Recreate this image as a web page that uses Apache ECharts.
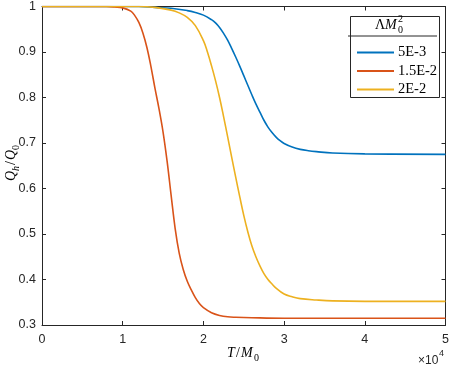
<!DOCTYPE html>
<html>
<head>
<meta charset="utf-8">
<script src="https://cdn.jsdelivr.net/npm/echarts@6/dist/echarts.min.js"></script>
<style>
html, body { margin: 0; padding: 0; background: #fff; }
#main { width: 452px; height: 366px; }
</style>
</head>
<body>
<div id="main"></div>
<script>
// Q_h/Q_0 against T/M_0 (x in units of 1e4)
var seriesNames = ['5E-3', '1.5E-2', '2E-2'];
var seriesColors = ['#0072BD', '#D95319', '#EDB120'];

var blueData = [
    [0, 1], [1.2, 1], [1.4, 0.998], [1.6, 0.996], [1.8, 0.991], [1.9, 0.987],
    [2.0, 0.981], [2.1, 0.971], [2.15, 0.964], [2.2, 0.954], [2.25, 0.941],
    [2.3, 0.926], [2.35, 0.908], [2.4, 0.889], [2.45, 0.869], [2.5, 0.848],
    [2.55, 0.827], [2.6, 0.806], [2.65, 0.786], [2.7, 0.768], [2.75, 0.750],
    [2.8, 0.735], [2.85, 0.723], [2.9, 0.713], [2.95, 0.705], [3.0, 0.699],
    [3.1, 0.691], [3.2, 0.686], [3.3, 0.683], [3.4, 0.681], [3.6, 0.678],
    [4.0, 0.676], [5, 0.675]
];
var redData = [
    [0, 1], [0.8, 1], [0.9, 0.999], [1.0, 0.997], [1.1, 0.99], [1.15, 0.98],
    [1.2, 0.965], [1.25, 0.942], [1.3, 0.91], [1.35, 0.868], [1.4, 0.82],
    [1.45, 0.775], [1.5, 0.724], [1.55, 0.66], [1.6, 0.585], [1.65, 0.512],
    [1.7, 0.458], [1.75, 0.422], [1.8, 0.396], [1.85, 0.377], [1.9, 0.36],
    [1.95, 0.347], [2.0, 0.338], [2.1, 0.327], [2.2, 0.321], [2.3, 0.318],
    [2.4, 0.317], [2.6, 0.316], [3.0, 0.315], [5, 0.315]
];
var yellowData = [
    [0, 1], [1.2, 1], [1.4, 0.998], [1.6, 0.992], [1.7, 0.986], [1.8, 0.976],
    [1.9, 0.958], [2.0, 0.925], [2.05, 0.9], [2.1, 0.87], [2.15, 0.837],
    [2.2, 0.80], [2.25, 0.758], [2.3, 0.714], [2.35, 0.669], [2.4, 0.625],
    [2.45, 0.582], [2.5, 0.541], [2.55, 0.505], [2.6, 0.474], [2.65, 0.45],
    [2.7, 0.43], [2.75, 0.413], [2.8, 0.40], [2.85, 0.39], [2.9, 0.381],
    [3.0, 0.368], [3.1, 0.362], [3.2, 0.358], [3.4, 0.355], [3.6, 0.353],
    [4.0, 0.352], [5, 0.352]
];
var allData = [blueData, redData, yellowData];

var xMin = 0, xMax = 5, xStep = 1;
var yMin = 0.3, yMax = 1, yStep = 0.1;

var axisColor = '#262626';
var sansFont = '"Liberation Sans", Arial, sans-serif';
var serifFont = '"Liberation Serif", "DejaVu Serif", serif';

var myChart = echarts.init(document.getElementById('main'));

function makeAxis(type, pos, showLabel) {
    return {
        type: 'value',
        position: pos,
        min: type === 'x' ? xMin : yMin,
        max: type === 'x' ? xMax : yMax,
        interval: type === 'x' ? xStep : yStep,
        axisLine: { show: true, onZero: false, lineStyle: { color: axisColor, width: 1 } },
        axisTick: { show: true, inside: true, length: 4, lineStyle: { color: axisColor } },
        axisLabel: {
            show: showLabel,
            color: axisColor,
            fontFamily: sansFont,
            fontSize: 12.5,
            margin: type === 'x' ? 8 : 6,
            showMinLabel: true,
            showMaxLabel: true,
            formatter: function (v) { return String(Math.round(v * 10) / 10); }
        },
        splitLine: { show: false }
    };
}

var series = seriesNames.map(function (name, i) {
    return {
        name: name,
        type: 'line',
        data: allData[i],
        smooth: 0.4,
        symbol: 'none',
        showSymbol: false,
        lineStyle: { color: seriesColors[i], width: 1.6 },
        itemStyle: { color: seriesColors[i] }
    };
});

var option = {
    backgroundColor: '#fff',
    animation: false,
    grid: { left: 42, right: 5, top: 5, bottom: 41, containLabel: false },
    xAxis: [makeAxis('x', 'bottom', true), makeAxis('x', 'top', false)],
    yAxis: [makeAxis('y', 'left', true), makeAxis('y', 'right', false)],
    legend: {
        orient: 'vertical',
        left: 352,
        top: 40,
        itemWidth: 37,
        itemHeight: 14,
        itemGap: 3.5,
        icon: 'path://M0,6 L37,6 L37,8 L0,8 Z',
        data: seriesNames,
        textStyle: { fontFamily: serifFont, fontSize: 14.5, color: '#000', padding: [0, 0, 0, -1] }
    },
    series: series,
    graphic: [
        // legend box with its title row
        { type: 'rect', left: 348, top: 14, shape: { width: 89, height: 81 },
          style: { fill: 'none', stroke: axisColor, lineWidth: 1 }, z: 0 },
        { type: 'line', shape: { x1: 348, y1: 36, x2: 437, y2: 36 },
          style: { stroke: axisColor, lineWidth: 1 } },
        { type: 'text', x: 375, y: 18, style: { text: 'Λ', font: '14px ' + serifFont, fill: '#000' } },
        { type: 'text', x: 385, y: 18, style: { text: 'M', font: 'italic 14px ' + serifFont, fill: '#000' } },
        { type: 'text', x: 398, y: 14, style: { text: '2', font: '10px ' + serifFont, fill: '#000' } },
        { type: 'text', x: 398, y: 25, style: { text: '0', font: '10px ' + serifFont, fill: '#000' } },
        // x axis name
        { type: 'text', x: 227, y: 346, style: { text: 'T', font: 'italic 14px ' + serifFont, fill: '#000' } },
        { type: 'text', x: 236, y: 346, style: { text: '/', font: '14px ' + serifFont, fill: '#000' } },
        { type: 'text', x: 241, y: 346, style: { text: 'M', font: 'italic 14px ' + serifFont, fill: '#000' } },
        { type: 'text', x: 254, y: 353, style: { text: '0', font: '10px ' + serifFont, fill: '#000' } },
        // exponent note
        { type: 'text', x: 418, y: 355, style: { text: '×10', font: '12px ' + sansFont, fill: axisColor } },
        { type: 'text', x: 439, y: 349, style: { text: '4', font: '9px ' + sansFont, fill: axisColor } },
        // y axis name, rotated
        { type: 'group', x: 4, y: 181, rotation: Math.PI / 2, children: [
            { type: 'text', x: 0, y: 0, style: { text: 'Q', font: 'italic 14px ' + serifFont, fill: '#000' } },
            { type: 'text', x: 10, y: 7, style: { text: 'h', font: 'italic 10px ' + serifFont, fill: '#000' } },
            { type: 'text', x: 16, y: 0, style: { text: '/', font: '14px ' + serifFont, fill: '#000' } },
            { type: 'text', x: 21, y: 0, style: { text: 'Q', font: 'italic 14px ' + serifFont, fill: '#000' } },
            { type: 'text', x: 31, y: 7, style: { text: '0', font: '10px ' + serifFont, fill: '#000' } }
        ] }
    ]
};

myChart.setOption(option);
</script>
</body>
</html>
